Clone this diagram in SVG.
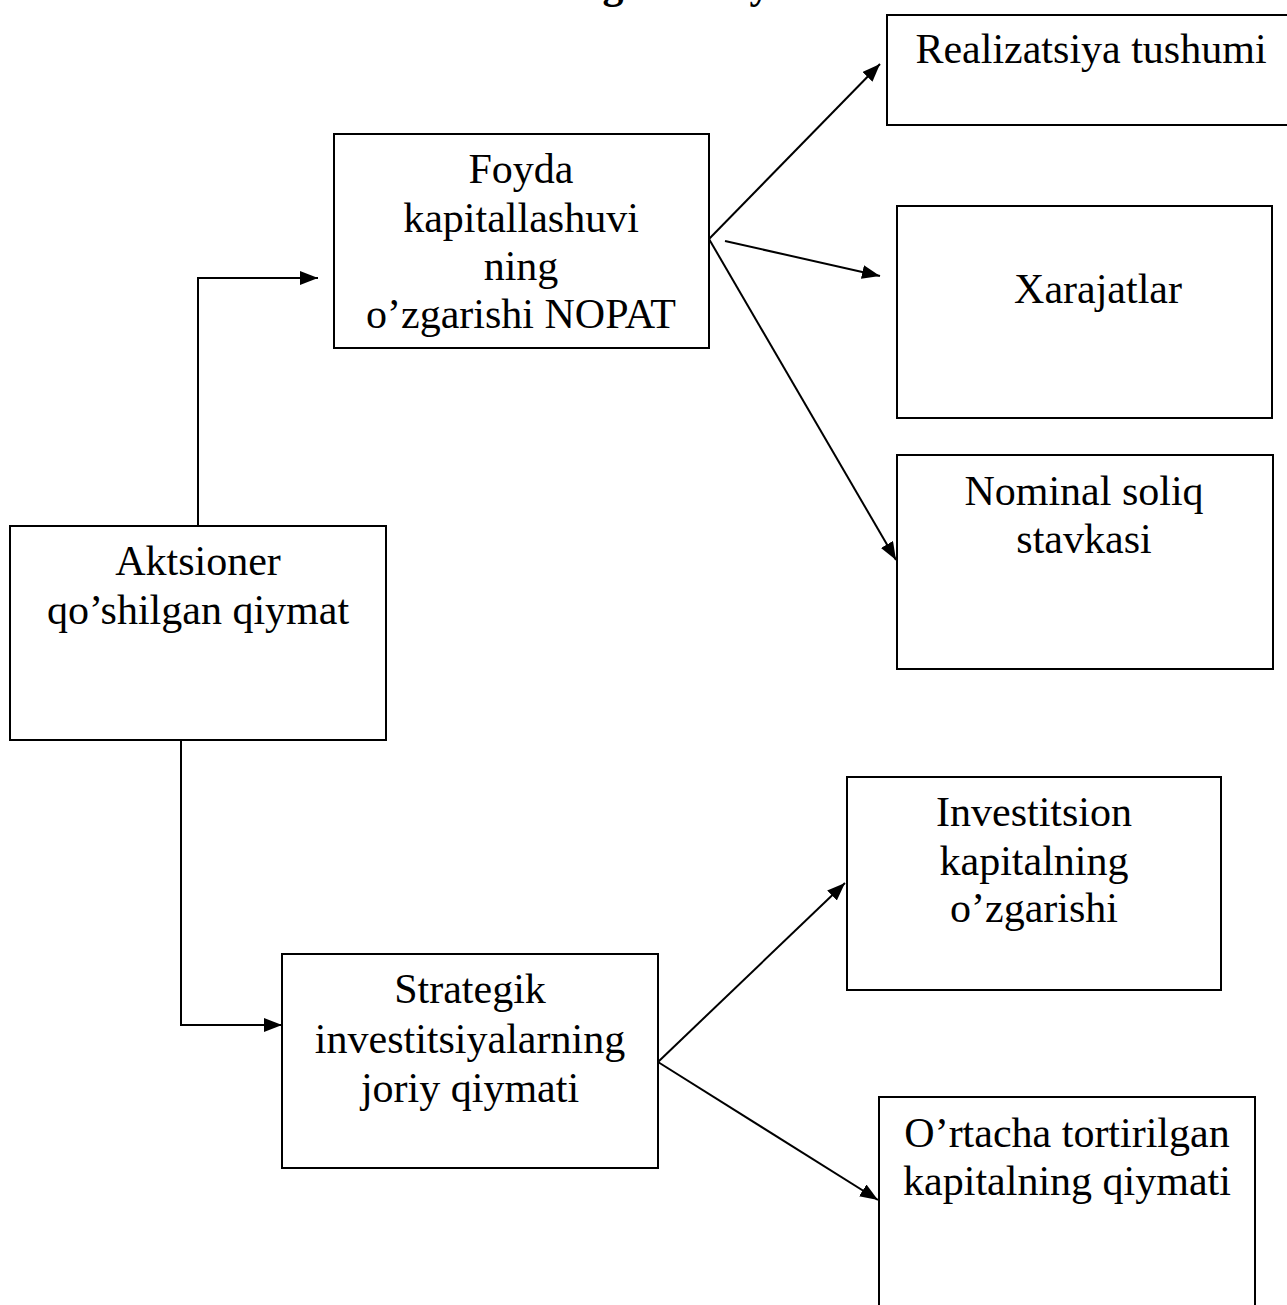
<svg xmlns="http://www.w3.org/2000/svg" width="1287" height="1305" viewBox="0 0 1287 1305">
  <defs>
    <marker id="arrow" markerWidth="9" markerHeight="7" refX="9" refY="3.5" orient="auto" markerUnits="strokeWidth">
      <path d="M0,0 L9,3.5 L0,7 Z" fill="#000"/>
    </marker>
    <style>
      .box { fill: #fff; stroke: #000; stroke-width: 2; }
      .lbl { font-family: "Liberation Serif", "Times New Roman", serif; font-size: 42px; fill: #000; text-anchor: middle; }
      .ttl { font-family: "Liberation Serif", "Times New Roman", serif; font-size: 42px; font-weight: bold; fill: #000; text-anchor: middle; }
      .wire { fill: none; stroke: #000; stroke-width: 2; }
      .wire.arr { marker-end: url(#arrow); }
    </style>
  </defs>
  <rect width="1287" height="1305" fill="#fff"/>

  <!-- heading, running off the top edge -->
  <g id="heading">
    <text class="ttl" x="613" y="-2">g</text>
    <text class="ttl" x="760" y="-2">y</text>
  </g>

  <!-- connectors -->
  <g id="connectors">
    <path class="wire arr" d="M198,526 L198,278 L318,278"/>
    <path class="wire arr" d="M181,740 L181,1025 L282,1025"/>
    <path class="wire arr" d="M709,239 L880,64"/>
    <path class="wire arr" d="M725,241 L880,276"/>
    <path class="wire arr" d="M709,239 L896,560"/>
    <path class="wire arr" d="M658,1062 L845,883"/>
    <path class="wire arr" d="M658,1062 L878,1200"/>
  </g>

  <g id="node-aktsioner">
    <rect class="box" x="10" y="526" width="376" height="214"/>
    <text class="lbl" x="198" y="575">Aktsioner</text>
    <text class="lbl" x="198" y="624">qo’shilgan qiymat</text>
  </g>

  <g id="node-foyda">
    <rect class="box" x="334" y="134" width="375" height="214"/>
    <text class="lbl" x="521" y="183">Foyda</text>
    <text class="lbl" x="521" y="232">kapitallashuvi</text>
    <text class="lbl" x="521" y="280">ning</text>
    <text class="lbl" x="521" y="328">o’zgarishi NOPAT</text>
  </g>

  <g id="node-strategik">
    <rect class="box" x="282" y="954" width="376" height="214"/>
    <text class="lbl" x="470" y="1003">Strategik</text>
    <text class="lbl" x="470" y="1053">investitsiyalarning</text>
    <text class="lbl" x="470" y="1102">joriy qiymati</text>
  </g>

  <g id="node-realizatsiya">
    <rect class="box" x="887" y="15" width="410" height="110"/>
    <text class="lbl" x="1091" y="63">Realizatsiya tushumi</text>
  </g>

  <g id="node-xarajatlar">
    <rect class="box" x="897" y="206" width="375" height="212"/>
    <text class="lbl" x="1098" y="303">Xarajatlar</text>
  </g>

  <g id="node-nominal">
    <rect class="box" x="897" y="455" width="376" height="214"/>
    <text class="lbl" x="1084" y="505">Nominal soliq</text>
    <text class="lbl" x="1084" y="553">stavkasi</text>
  </g>

  <g id="node-investitsion">
    <rect class="box" x="847" y="777" width="374" height="213"/>
    <text class="lbl" x="1034" y="826">Investitsion</text>
    <text class="lbl" x="1034" y="875">kapitalning</text>
    <text class="lbl" x="1034" y="922">o’zgarishi</text>
  </g>

  <g id="node-ortacha">
    <rect class="box" x="879" y="1097" width="376" height="230"/>
    <text class="lbl" x="1067" y="1147">O’rtacha tortirilgan</text>
    <text class="lbl" x="1067" y="1195">kapitalning qiymati</text>
  </g>
</svg>
